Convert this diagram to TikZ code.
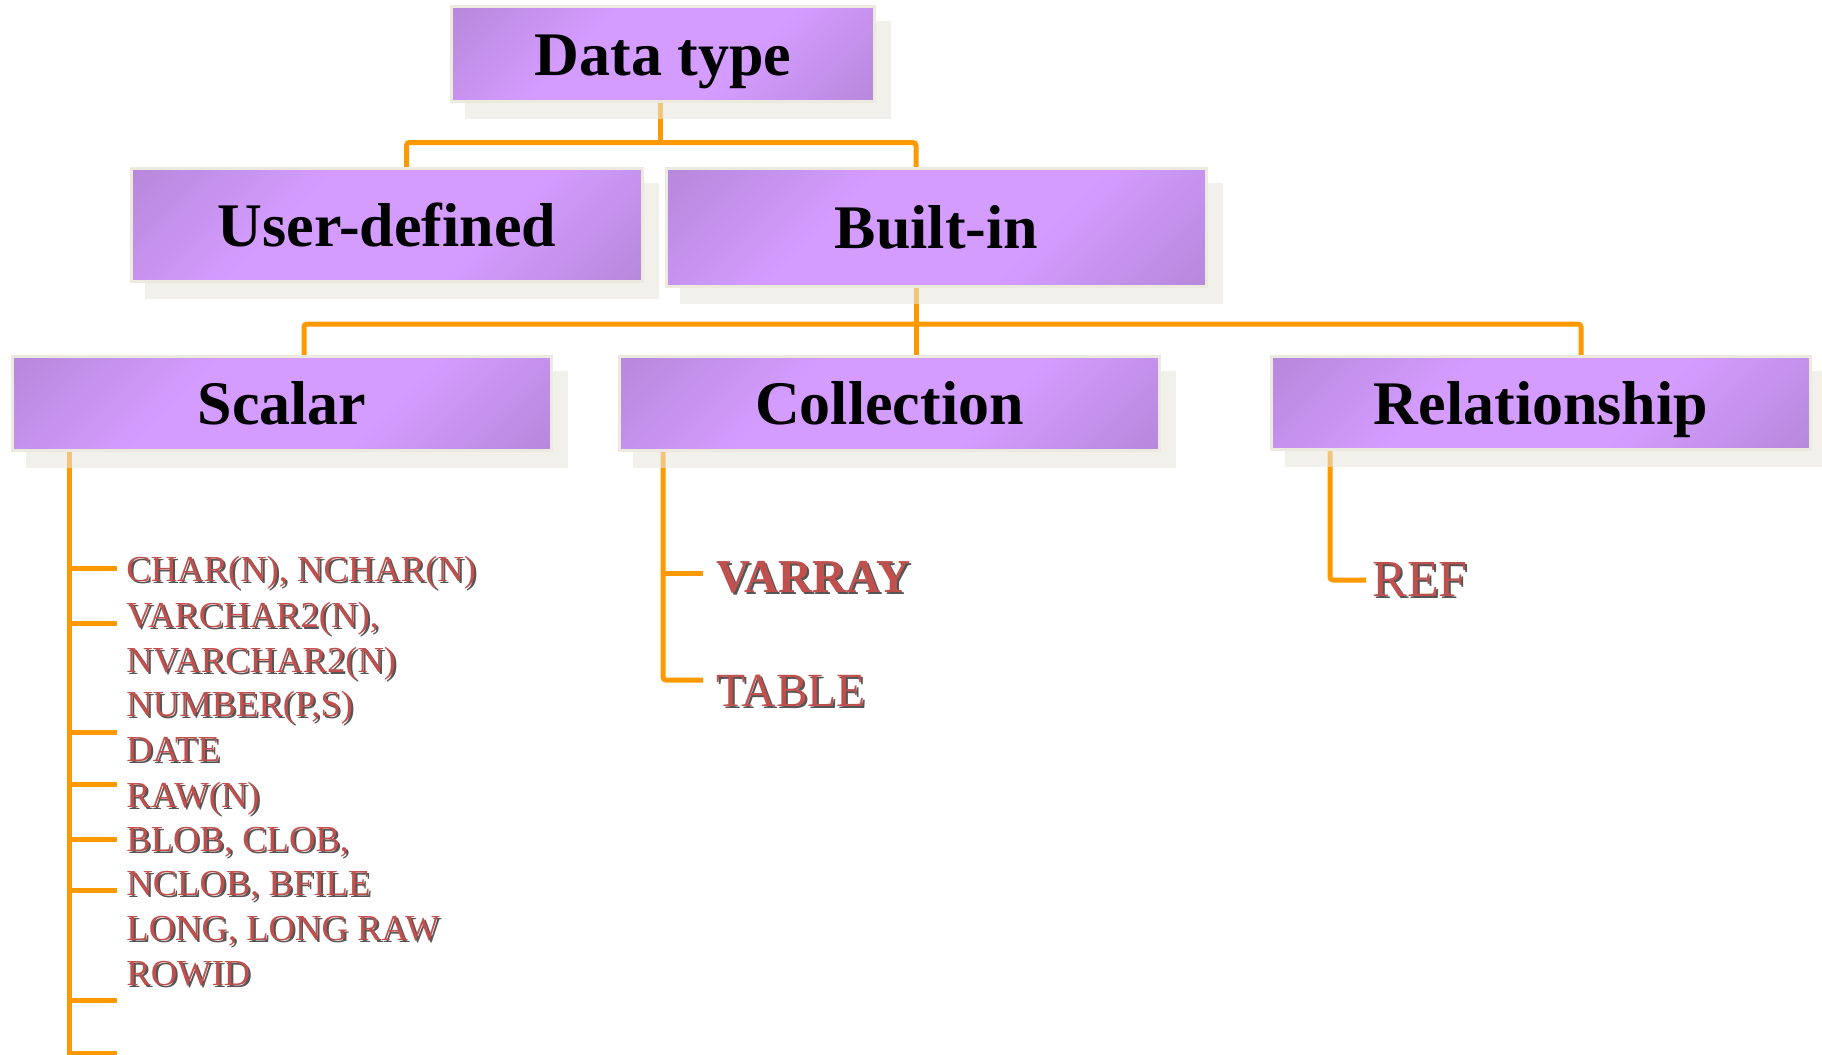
\documentclass[tikz,border=0pt]{standalone}
\usepackage{fontspec}
\setmainfont{Liberation Serif}
\usetikzlibrary{calc}
\definecolor{boxdark}{RGB}{172,128,206}
\definecolor{boxlight}{RGB}{212,156,255}
\definecolor{boxrim}{RGB}{236,233,222}
\definecolor{shadowc}{RGB}{232,230,221}
\definecolor{connc}{RGB}{255,153,0}
\definecolor{itemred}{RGB}{192,80,77}
\definecolor{itemshadow}{RGB}{85,85,85}
\pgfdeclareverticalshading{boxshade}{100bp}{color(0bp)=(boxdark); color(6bp)=(boxdark); color(38bp)=(boxlight); color(62bp)=(boxlight); color(94bp)=(boxdark); color(100bp)=(boxdark)}
\pgfdeclarelayer{background}
\pgfdeclarelayer{lines}
\pgfdeclarelayer{shadows}
\pgfsetlayers{background,lines,shadows,main}
\newcommand{\shadowtext}[1]{\leavevmode\rlap{\kern1pt\raisebox{-1pt}{\textcolor{itemshadow}{#1}}}#1}
\begin{document}
\begin{tikzpicture}[x={(0.5pt,0)}, y={(0,-0.5pt)},
  catbox/.style={draw=boxrim, line width=1.5pt, shading=boxshade, shading angle=45, inner sep=0pt,
    font=\fontsize{31}{36}\selectfont\bfseries, text height=24pt, text depth=3pt, text=black},
  conn/.style={draw=connc, line width=2.5pt, rounded corners=1.5pt},
  item/.style={anchor=base west, inner sep=0pt, text=itemred, font=\fontsize{18.3}{22}\selectfont},
  bigitem/.style={item, font=\fontsize{23.8}{28}\selectfont},
  boxshadow/.style={fill=shadowc, fill opacity=0.56}
]
\useasboundingbox (0,0) rectangle (1822,1055);
\begin{pgfonlayer}{background}
\fill[white] (0,0) rectangle (1822,1055);
\end{pgfonlayer}

% boxes
\node[catbox, minimum width=211.5pt, minimum height=47.5pt] (dt) at (663,54) {Data type};
\node[catbox, minimum width=255.5pt, minimum height=56.5pt] (ud) at (387,225) {User-defined};
\node[catbox, minimum width=270pt, minimum height=59pt] (bi) at (936.5,227.5) {Built-in};
\node[catbox, minimum width=269.5pt, minimum height=47pt] (sc) at (282,403.5) {Scalar};
\node[catbox, minimum width=270pt, minimum height=47pt] (co) at (889.5,403.5) {Collection};
\node[catbox, minimum width=269.5pt, minimum height=46.5pt] (re) at (1541,403) {Relationship};

% shadows
\begin{pgfonlayer}{shadows}
\foreach \n in {dt,ud,bi,sc,co,re}
  \fill[boxshadow] ([shift={(15,16)}]\n.south west) rectangle ([shift={(15,16)}]\n.north east);
\end{pgfonlayer}

% list items
\node[item] (s1) at (126,581) {\shadowtext{CHAR(N), NCHAR(N)}};
\node[item] (s2) at (126,627) {\shadowtext{VARCHAR2(N),}};
\node[item] (s3) at (126,672) {\shadowtext{NVARCHAR2(N)}};
\node[item] (s4) at (126,716) {\shadowtext{NUMBER(P,S)}};
\node[item] (s5) at (126,761) {\shadowtext{DATE}};
\node[item] (s6) at (126,807) {\shadowtext{RAW(N)}};
\node[item] (s7) at (126,851) {\shadowtext{BLOB, CLOB,}};
\node[item] (s8) at (126,895) {\shadowtext{NCLOB, BFILE}};
\node[item] (s9) at (126,940) {\shadowtext{LONG, LONG RAW}};
\node[item] (s10) at (126,985) {\shadowtext{ROWID}};

\node[bigitem, font=\fontsize{23.6}{28}\selectfont\bfseries] (va) at (716,592) {\shadowtext{VARRAY}};
\node[bigitem] (tb) at (716,706) {\shadowtext{TABLE}};
\node[item, font=\fontsize{26}{31}\selectfont] (rf) at (1372,596) {\shadowtext{REF}};

% connectors
\coordinate (j1) at (660.5,142.5);
\coordinate (xu) at (406.5,0);
\coordinate (xb) at (916,0);
\coordinate (j2) at (916,324);
\coordinate (xs) at (304,0);
\coordinate (xr) at (1581,0);
\coordinate (xl) at (69.5,0);
\coordinate (bot) at (69.5,1062);
\coordinate (cx) at (663,0);
\coordinate (cv) at (703,573);
\coordinate (ct) at (703,680);
\coordinate (rx) at (1330,0);
\coordinate (rt) at (1366,580);
\begin{pgfonlayer}{lines}
\draw[conn] (dt.south -| j1) -- (j1);
\draw[conn] (ud.north -| xu) |- (j1) -| (bi.north -| xb);
\draw[conn] (bi.south -| j2) -- (co.north -| j2);
\draw[conn] (sc.north -| xs) |- (j2) -| (re.north -| xr);
\draw[conn] (sc.south -| xl) -- (bot);
\foreach \y/\n in {568/1,623/2,732/3,784/4,839/5,890/6,1000/7,1053/8} {
  \coordinate (t\n) at (117,\y);
  \draw[conn] (xl |- t\n) -- (t\n);
}
\draw[conn] (co.south -| cx) |- (ct);
\draw[conn] (cx |- cv) -- (cv);
\draw[conn] (re.south -| rx) |- (rt);
\end{pgfonlayer}
\end{tikzpicture}
\end{document}
